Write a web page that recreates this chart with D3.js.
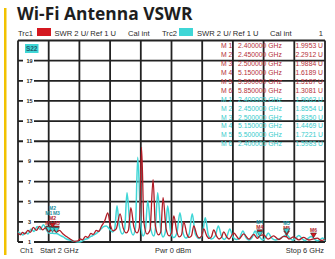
<!DOCTYPE html>
<html><head><meta charset="utf-8">
<script src="https://cdn.jsdelivr.net/npm/d3@7"></script>
<style>body{margin:0;background:#fff}svg{display:block}</style>
</head><body>
<svg id="c" width="335" height="259"></svg>
<script>
const title = "Wi-Fi Antenna VSWR";
const yTicks = [19,17,15,13,11,9,7,5,3,1];
const xTicks = [2,2.4,2.8,3.2,3.6,4,4.4,4.8,5.2,5.6,6];
const redFreq = [2.00,2.03,2.06,2.09,2.13,2.16,2.20,2.24,2.28,2.32,2.36,2.40,2.45,2.50,2.54,2.58,2.62,2.66,2.70,2.74,2.78,2.81,2.84,2.88,2.91,2.95,2.98,3.02,3.05,3.09,3.13,3.17,3.20,3.24,3.28,3.33,3.37,3.41,3.44,3.47,3.51,3.55,3.58,3.61,3.64,3.68,3.72,3.76,3.79,3.83,3.86,3.89,3.93,3.97,4.00,4.03,4.07,4.10,4.13,4.16,4.20,4.23,4.26,4.29,4.33,4.36,4.39,4.42,4.46,4.49,4.52,4.55,4.59,4.62,4.65,4.68,4.72,4.75,4.81,4.88,4.94,5.01,5.07,5.12,5.15,5.20,5.26,5.33,5.40,5.46,5.50,5.53,5.59,5.66,5.72,5.79,5.85,5.90,5.95,6.00];
const redSWR  = [1.90,1.72,1.95,1.80,2.15,1.95,2.45,2.15,2.55,2.20,2.40,2.00,2.29,1.99,2.15,1.85,1.60,1.40,1.20,1.06,1.10,1.30,1.22,1.55,1.45,1.85,1.75,2.15,2.05,2.60,3.10,3.90,2.80,2.10,2.30,3.80,2.40,1.90,2.20,4.40,2.50,1.90,2.40,10.40,3.00,1.80,2.20,7.20,2.60,1.70,2.00,5.40,2.30,1.60,1.90,3.60,2.00,1.50,1.70,3.00,1.80,1.45,1.60,2.60,1.70,1.40,1.55,2.30,1.60,1.35,1.50,2.20,1.55,1.30,1.45,2.00,1.50,1.30,1.90,1.30,1.80,1.28,1.75,1.35,1.62,1.70,1.28,1.60,1.25,1.55,1.52,1.30,1.50,1.22,1.45,1.20,1.31,1.38,1.15,1.25];
const cyanFreq = [2.00,2.03,2.06,2.10,2.13,2.17,2.21,2.25,2.29,2.33,2.37,2.40,2.45,2.50,2.55,2.59,2.63,2.67,2.71,2.75,2.79,2.83,2.87,2.91,2.95,2.99,3.03,3.07,3.11,3.15,3.19,3.23,3.26,3.29,3.32,3.36,3.39,3.42,3.46,3.50,3.53,3.56,3.60,3.63,3.66,3.69,3.73,3.77,3.79,3.82,3.86,3.89,3.92,3.95,3.99,4.03,4.07,4.11,4.15,4.19,4.23,4.27,4.31,4.36,4.40,4.44,4.48,4.52,4.57,4.61,4.65,4.69,4.72,4.76,4.80,4.85,4.89,4.93,4.97,5.01,5.05,5.09,5.12,5.15,5.19,5.23,5.26,5.30,5.35,5.40,5.45,5.50,5.54,5.58,5.62,5.66,5.70,5.74,5.78,5.82,5.86,5.90,5.94,5.97,6.00];
const cyanSWR  = [2.00,1.85,1.70,1.95,1.80,2.30,2.05,2.55,2.25,2.70,2.20,1.90,1.86,1.84,1.65,1.50,1.30,1.20,1.12,1.05,1.00,1.08,1.25,1.35,1.55,1.70,1.90,2.20,2.50,2.60,2.30,2.00,2.30,4.60,2.60,1.80,2.30,5.90,2.60,1.70,2.40,9.40,2.80,1.60,2.20,5.10,2.30,1.60,2.30,5.90,2.30,1.50,2.00,4.60,2.00,1.45,1.90,3.90,1.90,1.40,1.80,3.80,1.80,1.35,1.70,3.40,1.70,1.30,1.60,2.60,1.60,1.25,1.50,2.30,1.50,1.25,1.45,2.10,1.45,1.20,1.45,2.10,1.55,1.45,1.20,1.50,1.90,1.45,1.20,1.30,1.50,1.72,1.40,1.18,1.40,1.65,1.35,1.15,1.35,1.55,1.30,1.12,1.25,1.40,1.10];
const redMarkerFreq = [2.40,2.45,2.50,5.15,5.50,5.85];
const redMarkerVal  = [1.9953,2.2912,1.9884,1.6189,1.5187,1.3081];
const cyanMarkerFreq = [2.40,2.45,2.50,5.15,5.50,2.40];
const cyanMarkerVal  = [1.9063,1.8554,1.8350,1.4469,1.7221,1.5983];
const redTable = ["2.400000 GHz","2.450000 GHz","2.500000 GHz","5.150000 GHz","5.500000 GHz","5.850000 GHz"];
const redTableVal = ["1.9953 U","2.2912 U","1.9884 U","1.6189 U","1.5187 U","1.3081 U"];
const cyanTable = ["2.400000 GHz","2.450000 GHz","2.500000 GHz","5.150000 GHz","5.500000 GHz","2.400000 GHz"];
const cyanTableVal = ["1.9063 U","1.8554 U","1.8350 U","1.4469 U","1.7221 U","1.5983 U"];

const RED = "#b01c26", REDBOX = "#d41820", CYAN = "#3fd6d6", CYANTXT = "#36cccc", GRID = "#222", TXT = "#2a2a2a";
const svg = d3.select("#c");
const x = d3.scaleLinear().domain([2,6]).range([18,325]);
const y = d3.scaleLinear().domain([1,21]).range([242,40.5]);

svg.append("rect").attr("x",4).attr("y",8).attr("width",2.5).attr("height",247).attr("fill","#f2c200");
svg.append("text").attr("x",17).attr("y",20).text(title)
  .attr("font-family","Open Sans, Noto Sans, sans-serif").attr("font-weight",700).attr("font-size",17.4).attr("fill","#1e1e1e");

const hf = "Liberation Sans, Arial, sans-serif";
const hdr = svg.append("g").attr("font-family",hf).attr("font-size",7.6).attr("fill",TXT);
hdr.append("text").attr("x",18).attr("y",35.5).text("Trc1");
hdr.append("rect").attr("x",37).attr("y",28).attr("width",14).attr("height",8).attr("fill",REDBOX);
hdr.append("text").attr("x",54.5).attr("y",35.5).text("SWR  2 U/ Ref 1 U");
hdr.append("text").attr("x",128).attr("y",35.5).text("Cal int");
hdr.append("text").attr("x",162).attr("y",35.5).text("Trc2");
hdr.append("rect").attr("x",179).attr("y",28).attr("width",14).attr("height",8).attr("fill",CYAN);
hdr.append("text").attr("x",197).attr("y",35.5).text("SWR  2 U/ Ref 1 U");
hdr.append("text").attr("x",270).attr("y",35.5).text("Cal int");
hdr.append("text").attr("x",323).attr("y",35.5).attr("text-anchor","end").text("1");

const g = svg.append("g");
g.selectAll("line.v").data(xTicks).join("line").attr("class","v")
  .attr("x1",d=>x(d)).attr("x2",d=>x(d)).attr("y1",y(21)).attr("y2",y(1))
  .attr("stroke",GRID).attr("stroke-width",1.8);
g.selectAll("line.h").data(d3.range(1,22,2)).join("line").attr("class","h")
  .attr("x1",x(2)).attr("x2",x(6)).attr("y1",d=>y(d)).attr("y2",d=>y(d))
  .attr("stroke",GRID).attr("stroke-width",1.8);

const yl = svg.append("g").attr("font-family",hf).attr("font-size",5.5).attr("fill",TXT).attr("font-weight",700);
yTicks.forEach(t=>{
  yl.append("rect").attr("x",23).attr("y",y(t)-3.5).attr("width",11).attr("height",7).attr("fill","#fff");
  yl.append("text").attr("x",29.5).attr("y",y(t)+2).attr("text-anchor","middle").text(t);
});

svg.append("rect").attr("x",25).attr("y",44).attr("width",13.5).attr("height",9).attr("fill",CYAN);
svg.append("text").attr("x",31.7).attr("y",51).attr("text-anchor","middle").attr("font-family",hf)
  .attr("font-size",6.5).attr("font-weight",700).attr("fill","#1d5f6e").text("S22");

const tb = svg.append("g").attr("font-family",hf).attr("font-size",6.8);
function rows(labels, vals, col, start){
  labels.forEach((l,i)=>{
    const yy = start + i*8.9 + 2.3;
    tb.append("text").attr("x",221).attr("y",yy).attr("fill",col).text("M " + (i+1));
    tb.append("text").attr("x",238).attr("y",yy).attr("fill",col).text(l);
    tb.append("text").attr("x",323).attr("y",yy).attr("text-anchor","end").attr("fill",col).text(vals[i]);
  });
}
rows(redTable, redTableVal, "#b5303a", 46);
rows(cyanTable, cyanTableVal, CYANTXT, 46 + 6*8.9);

const line = d3.line().x(d=>x(d[0])).y(d=>y(d[1])).curve(d3.curveMonotoneX);
svg.append("path").datum(cyanFreq.map((f,i)=>[f,cyanSWR[i]])).attr("d",line)
  .attr("fill","none").attr("stroke",CYAN).attr("stroke-width",1.5);
svg.append("path").datum(redFreq.map((f,i)=>[f,redSWR[i]])).attr("d",line)
  .attr("fill","none").attr("stroke",RED).attr("stroke-width",1.3);

// markers: triangles at the trace values; labels stacked so they stay readable
const mg = svg.append("g").attr("font-family",hf).attr("font-size",5).attr("font-weight",700);
function tri(px, py, fill){
  mg.append("path").attr("d",`M${px},${py-1}L${px-3},${py-6}L${px+3},${py-6}Z`)
    .attr("fill",fill).attr("stroke","#222").attr("stroke-width",0.5);
}
const redLabelY = {};
redMarkerFreq.forEach((f,i)=>{
  const px = x(f), py = y(redMarkerVal[i]);
  tri(px, py, REDBOX);
  const ly = f < 3 ? y(2) - 7 - (i % 2) * 5 : py - 7;
  redLabelY[f] = Math.min(redLabelY[f] ?? 999, ly);
  mg.append("text").attr("x",px).attr("y",ly).attr("text-anchor","middle").attr("fill",RED).text("M"+(i+1));
});
cyanMarkerFreq.slice(0,5).forEach((f,i)=>{
  const px = x(f), py = y(cyanMarkerVal[i]);
  tri(px, py, CYAN);
  const ly = f < 3 ? y(2) - 17 - (i % 2) * 5 : Math.min(py - 7, redLabelY[f] - 5);
  mg.append("text").attr("x",px).attr("y",ly).attr("text-anchor","middle").attr("fill","#1d8f9e").text("M"+(i+1));
});

const ft = svg.append("g").attr("font-family",hf).attr("font-size",7.4).attr("fill",TXT);
ft.append("text").attr("x",20).attr("y",252.5).text("Ch1");
ft.append("text").attr("x",40).attr("y",252.5).text("Start  2 GHz");
ft.append("text").attr("x",155).attr("y",252.5).text("Pwr  0 dBm");
ft.append("text").attr("x",324).attr("y",252.5).attr("text-anchor","end").text("Stop  6 GHz");
</script>
</body></html>
